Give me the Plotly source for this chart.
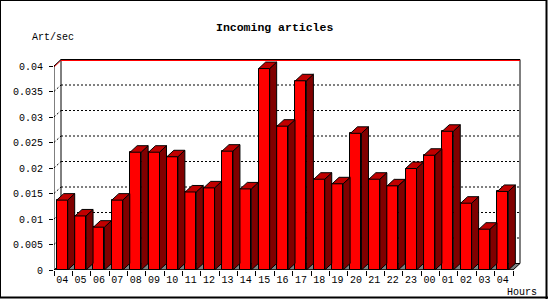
import plotly.graph_objects as go

# ---------------- data ----------------
hours = ["04", "05", "06", "07", "08", "09", "10", "11", "12", "13", "14", "15",
         "16", "17", "18", "19", "20", "21", "22", "23", "00", "01", "02", "03", "04"]
rates = [0.0137, 0.0106, 0.0084, 0.0137, 0.0231, 0.0231, 0.0222, 0.0153, 0.0161,
         0.0233, 0.0159, 0.0395, 0.0282, 0.0371, 0.0178, 0.0169, 0.0268, 0.0178,
         0.0165, 0.0199, 0.0225, 0.0272, 0.0131, 0.0080, 0.0154]
y_ticks = [0, 0.005, 0.01, 0.015, 0.02, 0.025, 0.03, 0.035, 0.04]
y_tick_labels = ["0", "0.005", "0.01", "0.015", "0.02", "0.025", "0.03", "0.035", "0.04"]

# ---------------- geometry (pixels) ----------------
W, H = 550, 300
PL, PR, PT, PB = 54, 530, 50, 270          # plot area in pixels
CAT_PX = 18.36                              # pixels per category
Y_PX = 5100.0                               # pixels per unit of y
FACE_OFF, FACE_W = 2.7, 11.0                # front face offset/width (px)
DEPTH_X, DEPTH_Y = 7.0, 6.5                 # 3D depth (px)

n = len(rates)
xmax = (PR - PL) / CAT_PX
ymax = (PB - PT) / Y_PX
DX = DEPTH_X / CAT_PX
DY = DEPTH_Y / Y_PX
off = FACE_OFF / CAT_PX
fw = FACE_W / CAT_PX
ytop = y_ticks[-1]

FONT = "Liberation Mono"


def xp(px):
    return (px - PL) / (PR - PL)


def yp(py):
    return (PB - py) / (PB - PT)


fig = go.Figure()

# front faces
fig.add_trace(go.Bar(
    x=[k + off + fw / 2 for k in range(n)], y=rates, width=fw,
    marker=dict(color="#ff0000", line=dict(color="black", width=1)),
    hoverinfo="skip", showlegend=False))

# side and top faces
for k, v in enumerate(rates):
    xl = k + off
    xr = xl + fw
    fig.add_trace(go.Scatter(
        x=[xr, xr + DX, xr + DX, xr, xr], y=[0, DY, v + DY, v, 0],
        mode="lines", fill="toself", fillcolor="#800000",
        line=dict(color="black", width=1), hoverinfo="skip", showlegend=False))
    fig.add_trace(go.Scatter(
        x=[xl, xl + DX, xr + DX, xr, xl], y=[v, v + DY, v + DY, v, v],
        mode="lines", fill="toself", fillcolor="#c00000",
        line=dict(color="black", width=1), hoverinfo="skip", showlegend=False))

shapes = []
# floor
shapes.append(dict(type="path", xref="x", yref="y", layer="below",
                   path=f"M0,0 L{n},0 L{n + DX},{DY} L{DX},{DY} Z",
                   fillcolor="#808080", line=dict(color="black", width=1)))
# back wall edges
shapes.append(dict(type="line", xref="x", yref="y", layer="below",
                   x0=DX, y0=DY, x1=DX, y1=ytop + DY, line=dict(color="black", width=1)))
shapes.append(dict(type="line", xref="x", yref="y", layer="below",
                   x0=n + DX, y0=DY, x1=n + DX, y1=ytop + DY, line=dict(color="black", width=1)))
# grid lines on back wall + diagonals
for t in y_ticks[1:-1]:
    shapes.append(dict(type="line", xref="x", yref="y", layer="below",
                       x0=DX, y0=t + DY, x1=n + DX, y1=t + DY,
                       line=dict(color="black", width=1, dash="2px,2px")))
    shapes.append(dict(type="line", xref="x", yref="y", layer="below",
                       x0=0, y0=t, x1=DX, y1=t + DY,
                       line=dict(color="black", width=1, dash="2px,2px")))
# top edge (black + red)
red_off = 1.0 / Y_PX
shapes.append(dict(type="path", xref="x", yref="y", layer="below",
                   path=f"M0,{ytop - red_off} L{DX},{ytop + DY - red_off} L{n + DX},{ytop + DY - red_off}",
                   line=dict(color="#ff0000", width=1)))
shapes.append(dict(type="path", xref="x", yref="y", layer="below",
                   path=f"M0,{ytop} L{DX},{ytop + DY} L{n + DX},{ytop + DY}",
                   line=dict(color="black", width=1)))
# front axes
shapes.append(dict(type="line", xref="x", yref="y", layer="above",
                   x0=0, y0=0, x1=0, y1=ytop, line=dict(color="black", width=1)))
shapes.append(dict(type="line", xref="x", yref="y", layer="above",
                   x0=0, y0=0, x1=n, y1=0, line=dict(color="black", width=1)))

# image border
shapes.append(dict(type="line", xref="paper", yref="paper", x0=xp(0.5), y0=yp(0), x1=xp(0.5), y1=yp(298),
                   line=dict(color="black", width=1)))
shapes.append(dict(type="line", xref="paper", yref="paper", x0=xp(0), y0=yp(0.5), x1=xp(547), y1=yp(0.5),
                   line=dict(color="black", width=1)))
shapes.append(dict(type="line", xref="paper", yref="paper", x0=xp(546.5), y0=yp(0), x1=xp(546.5), y1=yp(299),
                   line=dict(color="black", width=2)))
shapes.append(dict(type="line", xref="paper", yref="paper", x0=xp(0), y0=yp(297.5), x1=xp(548), y1=yp(297.5),
                   line=dict(color="black", width=2)))

annotations = [
    dict(text="<b>Incoming articles</b>", x=xp(274), y=yp(27), xref="paper", yref="paper",
         xanchor="center", yanchor="middle", showarrow=False,
         font=dict(family=FONT, size=11.5, color="black")),
    dict(text="Art/sec", x=xp(30), y=yp(37), xref="paper", yref="paper",
         xanchor="left", yanchor="middle", showarrow=False,
         font=dict(family=FONT, size=10, color="black")),
    dict(text="Hours", x=xp(505), y=yp(292), xref="paper", yref="paper",
         xanchor="left", yanchor="middle", showarrow=False,
         font=dict(family=FONT, size=10, color="black")),
]

fig.update_layout(
    width=W, height=H,
    margin=dict(l=PL, r=W - PR, t=PT, b=H - PB, autoexpand=False),
    paper_bgcolor="white", plot_bgcolor="white",
    showlegend=False, bargap=0,
    shapes=shapes, annotations=annotations,
    xaxis=dict(range=[0, xmax], showgrid=False, zeroline=False, showline=False,
               tickmode="array", tickvals=[k + off + fw / 2 for k in range(n)], ticktext=hours,
               ticks="", ticklen=0, ticklabelstandoff=2,
               tickfont=dict(family=FONT, size=10, color="black"),
               minor=dict(tickmode="array", tickvals=list(range(n + 1)), ticks="outside",
                          ticklen=5, tickcolor="black", tickwidth=1, showgrid=False)),
    yaxis=dict(range=[0, ymax], showgrid=False, zeroline=False, showline=False,
               tickmode="array", tickvals=y_ticks, ticktext=y_tick_labels,
               ticks="outside", ticklen=4, tickcolor="black", tickwidth=1, ticklabelstandoff=4,
               tickfont=dict(family=FONT, size=10, color="black")),
)

fig.write_html("out.html")
